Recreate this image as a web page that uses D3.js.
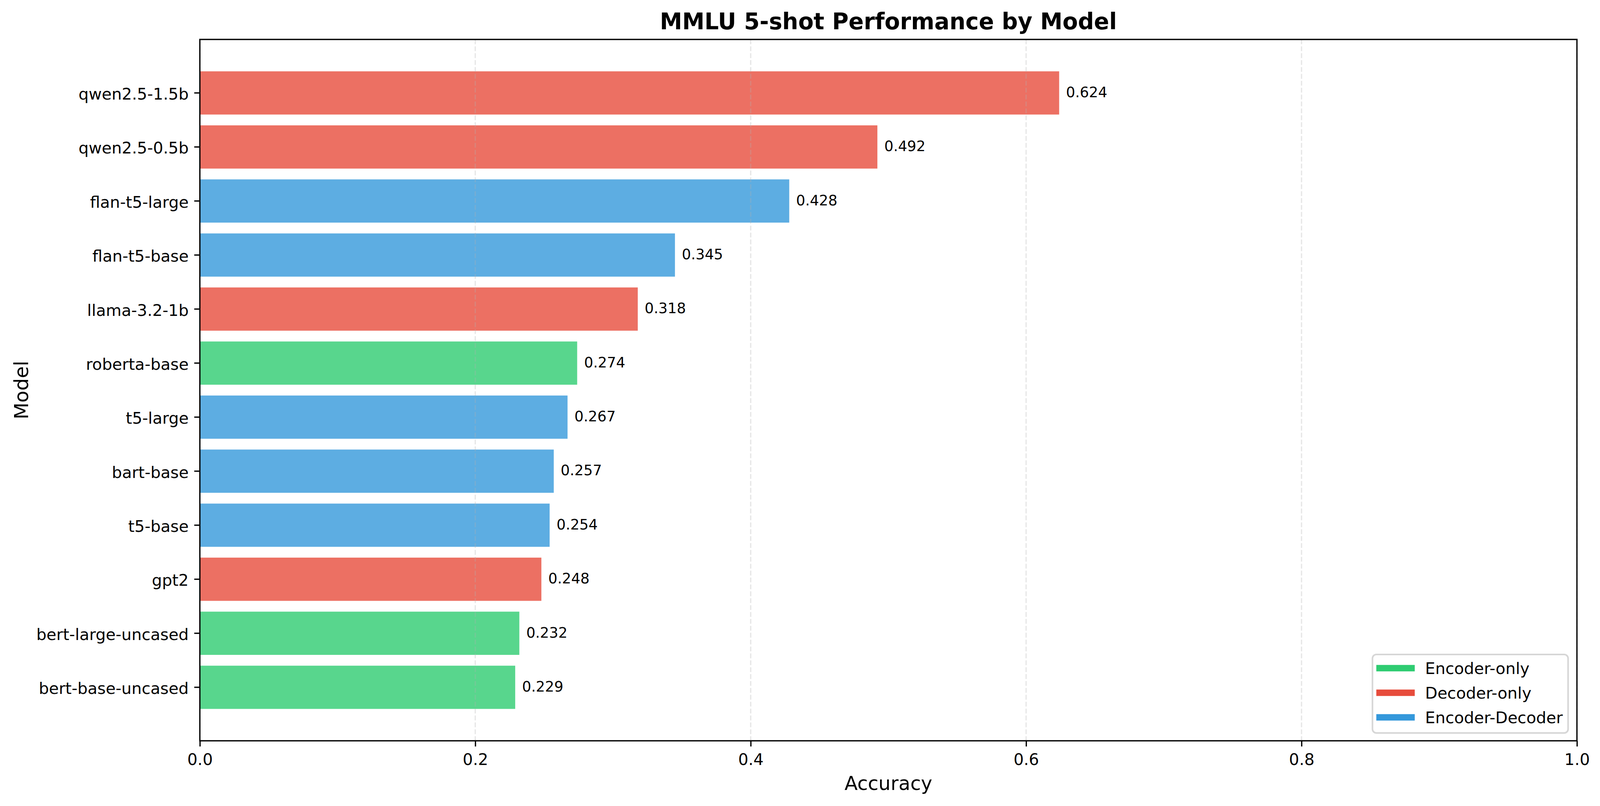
<!DOCTYPE html>
<html>
<head>
<meta charset="utf-8">
<script src="https://cdn.jsdelivr.net/npm/d3@7"></script>
<style>
  html, body { margin: 0; padding: 0; background: #fff; overflow: hidden; }
  svg { display: block; width: 100vw; height: 100vh; font-family: "DejaVu Sans", sans-serif; }
</style>
</head>
<body>
<div id="chart"></div>
<script>
// Models listed top to bottom, as in the picture
const models = [
  "qwen2.5-1.5b", "qwen2.5-0.5b", "flan-t5-large", "flan-t5-base",
  "llama-3.2-1b", "roberta-base", "t5-large", "bart-base",
  "t5-base", "gpt2", "bert-large-uncased", "bert-base-uncased"
];
const accuracy = [0.624, 0.492, 0.428, 0.345, 0.318, 0.274, 0.267, 0.257, 0.254, 0.248, 0.232, 0.229];
const archType = [
  "Decoder-only", "Decoder-only", "Encoder-Decoder", "Encoder-Decoder",
  "Decoder-only", "Encoder-only", "Encoder-Decoder", "Encoder-Decoder",
  "Encoder-Decoder", "Decoder-only", "Encoder-only", "Encoder-only"
];
const archNames = ["Encoder-only", "Decoder-only", "Encoder-Decoder"];
const archColors = ["#2ecc71", "#e74c3c", "#3498db"];
const xTicks = [0, 0.2, 0.4, 0.6, 0.8, 1.0];

const W = 4163, H = 2064;
const plot = { left: 520, right: 4103, top: 101, bottom: 1897 };
const pt = 300 / 72;

const data = models.map((m, i) => ({ model: m, value: accuracy[i], arch: archType[i] }));

const color = d3.scaleOrdinal().domain(archNames).range(archColors);

const x = d3.scaleLinear().domain([0, 1]).range([plot.left, plot.right]);
const y = d3.scaleBand()
  .domain(models)
  .range([plot.top, plot.bottom])
  .paddingInner(0.2)
  .paddingOuter(0.59);

const svg = d3.select("#chart").append("svg")
  .attr("viewBox", [0, 0, W, H])
  .attr("preserveAspectRatio", "none");

// Bars
svg.append("g")
  .selectAll("rect")
  .data(data)
  .join("rect")
  .attr("x", x(0))
  .attr("y", d => y(d.model))
  .attr("width", d => x(d.value) - x(0))
  .attr("height", y.bandwidth())
  .attr("fill", d => color(d.arch))
  .attr("fill-opacity", 0.8);

// Vertical grid (drawn above the bars, like matplotlib)
svg.append("g")
  .selectAll("line")
  .data(xTicks)
  .join("line")
  .attr("x1", d => x(d))
  .attr("x2", d => x(d))
  .attr("y1", plot.top)
  .attr("y2", plot.bottom)
  .attr("stroke", "#b0b0b0")
  .attr("stroke-opacity", 0.3)
  .attr("stroke-width", 0.8 * pt)
  .attr("stroke-dasharray", `${3.7 * 0.8 * pt} ${1.6 * 0.8 * pt}`);

// Value labels
svg.append("g")
  .selectAll("text")
  .data(data)
  .join("text")
  .attr("x", d => x(d.value + 0.005))
  .attr("y", d => y(d.model) + y.bandwidth() / 2)
  .attr("dy", "0.29em")
  .style("font-size", `${9 * pt}px`)
  .text(d => d.value.toFixed(3));

// X axis
const xAxis = svg.append("g")
  .attr("transform", `translate(0,${plot.bottom})`)
  .call(d3.axisBottom(x)
    .tickValues(xTicks)
    .tickFormat(d3.format(".1f"))
    .tickSize(3.5 * pt)
    .tickPadding(3.5 * pt)
    .tickSizeOuter(0));
xAxis.select(".domain").remove();
xAxis.selectAll(".tick line").attr("stroke", "#000").attr("stroke-width", 0.8 * pt);
xAxis.selectAll(".tick text")
  .attr("fill", "#000")
  .attr("dy", "0.78em")
  .style("font-size", `${10 * pt}px`)
  .style("font-family", "DejaVu Sans");

// Y axis
const yAxis = svg.append("g")
  .attr("transform", `translate(${plot.left},0)`)
  .call(d3.axisLeft(y)
    .tickSize(3.5 * pt)
    .tickPadding(3.5 * pt)
    .tickSizeOuter(0));
yAxis.select(".domain").remove();
yAxis.selectAll(".tick line").attr("stroke", "#000").attr("stroke-width", 0.8 * pt);
yAxis.selectAll(".tick text")
  .attr("fill", "#000")
  .attr("dy", "0.41em")
  .style("font-size", `${10 * pt}px`)
  .style("font-family", "DejaVu Sans");

// Spines
svg.append("rect")
  .attr("x", plot.left)
  .attr("y", plot.top)
  .attr("width", plot.right - plot.left)
  .attr("height", plot.bottom - plot.top)
  .attr("fill", "none")
  .attr("stroke", "#000")
  .attr("stroke-width", 0.8 * pt);

// Axis labels
svg.append("text")
  .attr("x", (plot.left + plot.right) / 2)
  .attr("y", 2023)
  .attr("text-anchor", "middle")
  .style("font-size", `${12 * pt}px`)
  .text("Accuracy");

svg.append("text")
  .attr("transform", `translate(73,${(plot.top + plot.bottom) / 2}) rotate(-90)`)
  .attr("text-anchor", "middle")
  .style("font-size", `${12 * pt}px`)
  .text("Model");

// Title
svg.append("text")
  .attr("x", (plot.left + plot.right) / 2)
  .attr("y", 75)
  .attr("text-anchor", "middle")
  .style("font-size", `${14 * pt}px`)
  .style("font-weight", "bold")
  .text("MMLU 5-shot Performance by Model");

// Legend
const legend = svg.append("g").attr("transform", "translate(3571,1676)");
legend.append("rect")
  .attr("width", 509)
  .attr("height", 201)
  .attr("rx", 10)
  .attr("fill", "#fff")
  .attr("fill-opacity", 0.8)
  .attr("stroke", "#cccccc")
  .attr("stroke-opacity", 0.8)
  .attr("stroke-width", 1 * pt);

archNames.forEach((name, i) => {
  const row = legend.append("g").attr("transform", `translate(0,${35 + i * 63})`);
  row.append("line")
    .attr("x1", 10 + 2 * pt)
    .attr("x2", 110 - 2 * pt)
    .attr("y1", 0)
    .attr("y2", 0)
    .attr("stroke", color(name))
    .attr("stroke-width", 4 * pt)
    .attr("stroke-linecap", "square");
  row.append("text")
    .attr("x", 137)
    .attr("y", 0)
    .attr("dy", "0.36em")
    .style("font-size", `${10 * pt}px`)
    .text(name);
});
</script>
</body>
</html>
